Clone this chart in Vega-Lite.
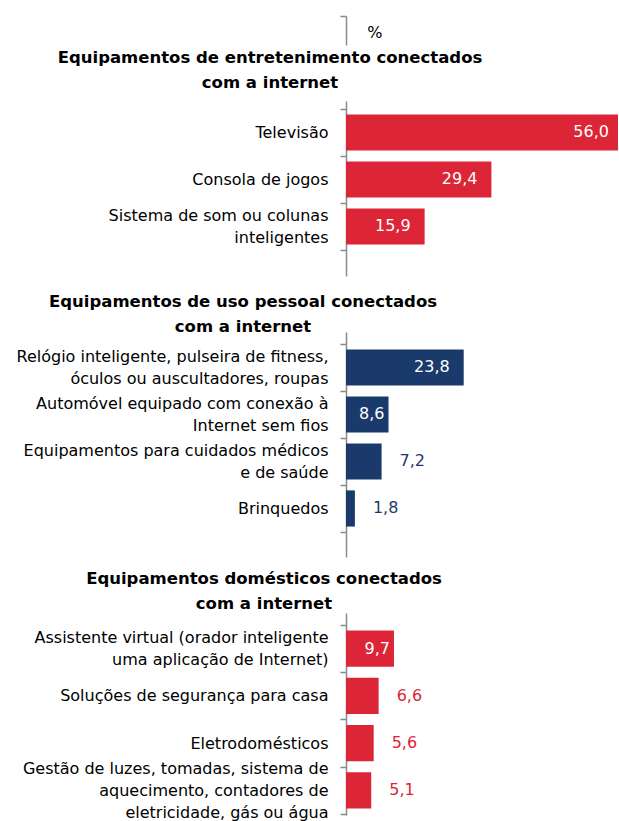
{
  "$schema": "https://vega.github.io/schema/vega-lite/v6.json",
  "background": "white",
  "padding": {"left": 16, "top": 15, "right": 0, "bottom": 0},
  "config": {"view": {"stroke": null}, "font": "DejaVu Sans"},
  "datasets": {
    "items": [
      {"section": "entretenimento", "item": "Televisão", "value": 56.0},
      {"section": "entretenimento", "item": "Consola de jogos", "value": 29.4},
      {"section": "entretenimento", "item": "Sistema de som ou colunas\ninteligentes", "value": 15.9},
      {"section": "pessoal", "item": "Relógio inteligente, pulseira de fitness,\nóculos ou auscultadores, roupas", "value": 23.8},
      {"section": "pessoal", "item": "Automóvel equipado com conexão à\nInternet sem fios", "value": 8.6},
      {"section": "pessoal", "item": "Equipamentos para cuidados médicos\ne de saúde", "value": 7.2},
      {"section": "pessoal", "item": "Brinquedos", "value": 1.8},
      {"section": "domestico", "item": "Assistente virtual (orador inteligente\numa aplicação de Internet)", "value": 9.7},
      {"section": "domestico", "item": "Soluções de segurança para casa", "value": 6.6},
      {"section": "domestico", "item": "Eletrodomésticos", "value": 5.6},
      {"section": "domestico", "item": "Gestão de luzes, tomadas, sistema de\naquecimento, contadores de\neletricidade, gás ou água", "value": 5.1}
    ]
  },
  "bounds": "flush",
  "spacing": 56,
  "vconcat": [
    {
      "width": 272,
      "height": 29,
      "data": {"values": [{"unit": "%"}]},
      "mark": {"type": "text", "align": "left", "baseline": "middle", "fontSize": 16, "font": "DejaVu Sans", "color": "#000000"},
      "encoding": {
        "text": {"field": "unit"},
        "x": {"datum": 4.3, "type": "quantitative", "scale": {"domain": [0, 55]}, "axis": null},
        "y": {"datum": 0.42, "type": "quantitative", "scale": {"domain": [0, 1], "nice": false},
          "axis": {"values": [1], "labels": false, "title": null, "grid": false, "tickSize": 6, "tickWidth": 1.5, "tickColor": "#8a8a8a", "domainColor": "#8a8a8a", "domainWidth": 1.5}}
      }
    },
    {
      "width": 272,
      "height": 175,
      "title": {"text": ["Equipamentos de entretenimento conectados", "com a internet"], "font": "DejaVu Sans", "fontSize": 16.5, "fontWeight": "bold", "color": "#000000", "lineHeight": 25, "anchor": "middle", "frame": "group", "dx": -212, "offset": 2},
      "data": {"name": "items"},
      "transform": [
        {"filter": "datum.section == 'entretenimento'"},
        {"calculate": "replace(format(datum.value, '.1f'), '.', ',')", "as": "label"}
      ],
      "encoding": {
        "y": {"field": "item", "type": "nominal", "sort": null,
          "scale": {"paddingInner": 0, "paddingOuter": 0.362, "align": 0.235},
          "axis": {"title": null, "grid": false, "tickBand": "extent", "tickSize": 6, "tickWidth": 1.5, "tickColor": "#8a8a8a", "domainColor": "#8a8a8a", "domainWidth": 1.5, "labelPadding": 12, "labelFont": "DejaVu Sans", "labelFontSize": 16, "labelColor": "#000000", "labelLimit": 400, "labelLineHeight": 22, "labelOverlap": false, "labelExpr": "split(datum.label, '\\n')",
            "labelOffset": {"condition": [{"test": "length(split(datum.value, '\\n')) == 3", "value": -22}, {"test": "length(split(datum.value, '\\n')) == 2", "value": -11}], "value": 0}}},
        "x": {"field": "value", "type": "quantitative", "scale": {"domain": [0, 55]}, "axis": null}
      },
      "layer": [
        {"mark": {"type": "bar", "height": {"band": 0.77}, "clip": true, "color": "#DC2638"}},
        {"transform": [{"filter": "datum.value >= 12"}],
          "mark": {"type": "text", "align": "right", "baseline": "middle", "dx": -14, "fontSize": 16, "font": "DejaVu Sans", "color": "#ffffff"},
          "encoding": {"text": {"field": "label"}}},
        {"transform": [{"filter": "datum.value >= 8 && datum.value < 12"}],
          "mark": {"type": "text", "align": "right", "baseline": "middle", "dx": -4, "fontSize": 16, "font": "DejaVu Sans", "color": "#ffffff"},
          "encoding": {"text": {"field": "label"}}},
        {"transform": [{"filter": "datum.value < 8"}],
          "mark": {"type": "text", "align": "left", "baseline": "middle", "dx": 18, "fontSize": 16, "font": "DejaVu Sans", "color": "#DC2638"},
          "encoding": {"text": {"field": "label"}}}
      ]
    },
    {
      "width": 272,
      "height": 225,
      "title": {"text": ["Equipamentos de uso pessoal conectados", "com a internet"], "font": "DejaVu Sans", "fontSize": 16.5, "fontWeight": "bold", "color": "#000000", "lineHeight": 25, "anchor": "middle", "frame": "group", "dx": -239, "offset": -11},
      "data": {"name": "items"},
      "transform": [
        {"filter": "datum.section == 'pessoal'"},
        {"calculate": "replace(format(datum.value, '.1f'), '.', ',')", "as": "label"}
      ],
      "encoding": {
        "y": {"field": "item", "type": "nominal", "sort": null,
          "scale": {"paddingInner": 0, "paddingOuter": 0.394, "align": 0.324},
          "axis": {"title": null, "grid": false, "tickBand": "extent", "tickSize": 6, "tickWidth": 1.5, "tickColor": "#8a8a8a", "domainColor": "#8a8a8a", "domainWidth": 1.5, "labelPadding": 12, "labelFont": "DejaVu Sans", "labelFontSize": 16, "labelColor": "#000000", "labelLimit": 400, "labelLineHeight": 22, "labelOverlap": false, "labelExpr": "split(datum.label, '\\n')",
            "labelOffset": {"condition": [{"test": "length(split(datum.value, '\\n')) == 3", "value": -22}, {"test": "length(split(datum.value, '\\n')) == 2", "value": -11}], "value": 0}}},
        "x": {"field": "value", "type": "quantitative", "scale": {"domain": [0, 55]}, "axis": null}
      },
      "layer": [
        {"mark": {"type": "bar", "height": {"band": 0.77}, "clip": true, "color": "#1B3A6C"}},
        {"transform": [{"filter": "datum.value >= 12"}],
          "mark": {"type": "text", "align": "right", "baseline": "middle", "dx": -14, "fontSize": 16, "font": "DejaVu Sans", "color": "#ffffff"},
          "encoding": {"text": {"field": "label"}}},
        {"transform": [{"filter": "datum.value >= 8 && datum.value < 12"}],
          "mark": {"type": "text", "align": "right", "baseline": "middle", "dx": -4, "fontSize": 16, "font": "DejaVu Sans", "color": "#ffffff"},
          "encoding": {"text": {"field": "label"}}},
        {"transform": [{"filter": "datum.value < 8"}],
          "mark": {"type": "text", "align": "left", "baseline": "middle", "dx": 18, "fontSize": 16, "font": "DejaVu Sans", "color": "#1B3A6C"},
          "encoding": {"text": {"field": "label"}}}
      ]
    },
    {
      "width": 272,
      "height": 202,
      "title": {"text": ["Equipamentos domésticos conectados", "com a internet"], "font": "DejaVu Sans", "fontSize": 16.5, "fontWeight": "bold", "color": "#000000", "lineHeight": 25, "anchor": "middle", "frame": "group", "dx": -218, "offset": -7},
      "data": {"name": "items"},
      "transform": [
        {"filter": "datum.section == 'domestico'"},
        {"calculate": "replace(format(datum.value, '.1f'), '.', ',')", "as": "label"}
      ],
      "encoding": {
        "y": {"field": "item", "type": "nominal", "sort": null,
          "scale": {"paddingInner": 0, "paddingOuter": 0.138, "align": 0.92},
          "axis": {"title": null, "grid": false, "tickBand": "extent", "tickSize": 6, "tickWidth": 1.5, "tickColor": "#8a8a8a", "domainColor": "#8a8a8a", "domainWidth": 1.5, "labelPadding": 12, "labelFont": "DejaVu Sans", "labelFontSize": 16, "labelColor": "#000000", "labelLimit": 400, "labelLineHeight": 22, "labelOverlap": false, "labelExpr": "split(datum.label, '\\n')",
            "labelOffset": {"condition": [{"test": "length(split(datum.value, '\\n')) == 3", "value": -22}, {"test": "length(split(datum.value, '\\n')) == 2", "value": -11}], "value": 0}}},
        "x": {"field": "value", "type": "quantitative", "scale": {"domain": [0, 55]}, "axis": null}
      },
      "layer": [
        {"mark": {"type": "bar", "height": {"band": 0.77}, "clip": true, "color": "#DC2638"}},
        {"transform": [{"filter": "datum.value >= 12"}],
          "mark": {"type": "text", "align": "right", "baseline": "middle", "dx": -14, "fontSize": 16, "font": "DejaVu Sans", "color": "#ffffff"},
          "encoding": {"text": {"field": "label"}}},
        {"transform": [{"filter": "datum.value >= 8 && datum.value < 12"}],
          "mark": {"type": "text", "align": "right", "baseline": "middle", "dx": -4, "fontSize": 16, "font": "DejaVu Sans", "color": "#ffffff"},
          "encoding": {"text": {"field": "label"}}},
        {"transform": [{"filter": "datum.value < 8"}],
          "mark": {"type": "text", "align": "left", "baseline": "middle", "dx": 18, "fontSize": 16, "font": "DejaVu Sans", "color": "#DC2638"},
          "encoding": {"text": {"field": "label"}}}
      ]
    }
  ]
}
